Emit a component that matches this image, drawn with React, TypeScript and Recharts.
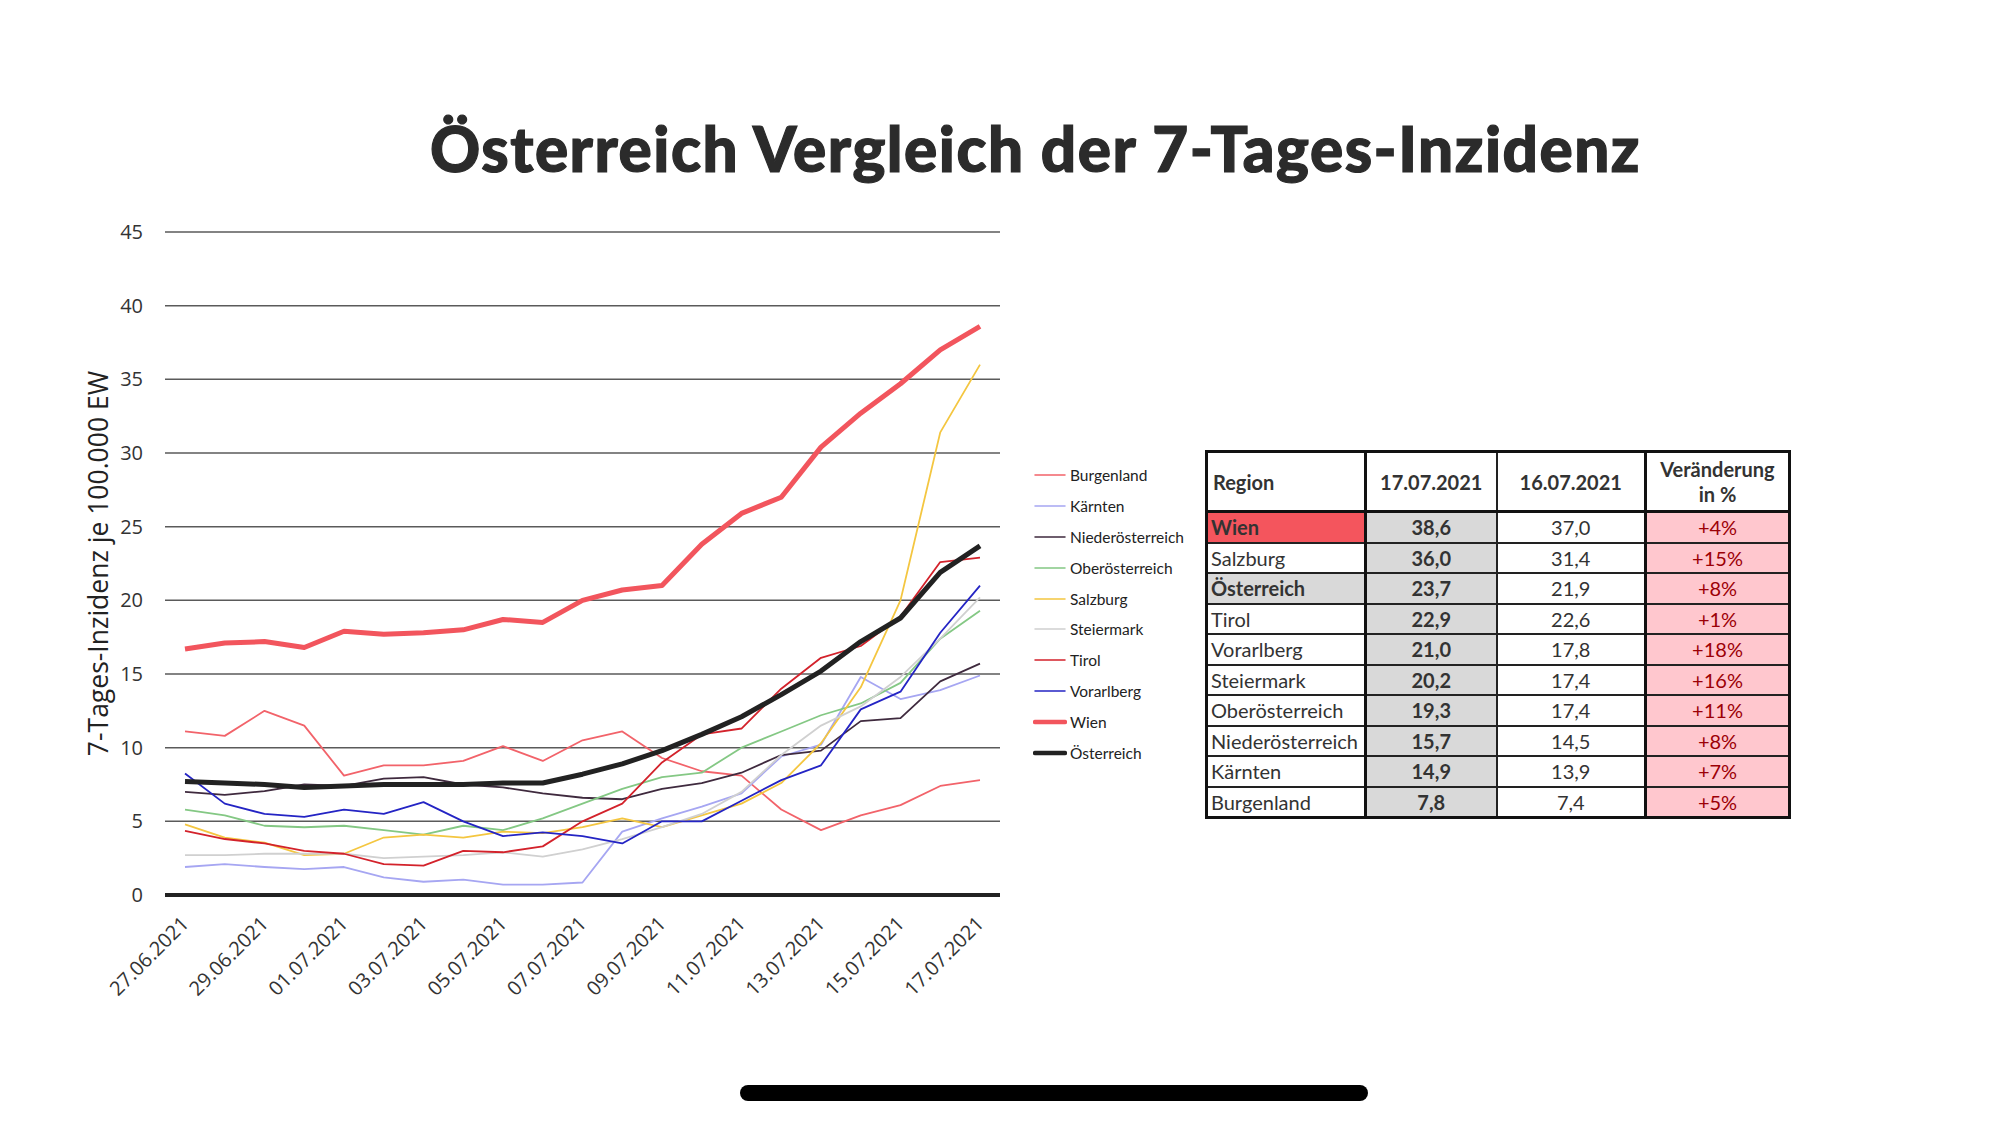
import { LineChart, Line, XAxis, YAxis, CartesianGrid, Legend, Label } from 'recharts'

const dates = [
  '27.06.2021', '28.06.2021', '29.06.2021', '30.06.2021', '01.07.2021', '02.07.2021', '03.07.2021',
  '04.07.2021', '05.07.2021', '06.07.2021', '07.07.2021', '08.07.2021', '09.07.2021', '10.07.2021',
  '11.07.2021', '12.07.2021', '13.07.2021', '14.07.2021', '15.07.2021', '16.07.2021', '17.07.2021',
]

const burgenland = [11.1, 10.8, 12.5, 11.5, 8.1, 8.8, 8.8, 9.1, 10.1, 9.1, 10.5, 11.1, 9.3, 8.4, 8.1, 5.8, 4.4, 5.4, 6.1, 7.4, 7.8]
const kaernten = [1.9, 2.1, 1.9, 1.75, 1.9, 1.2, 0.9, 1.05, 0.7, 0.7, 0.85, 4.3, 5.2, 6.0, 6.9, 9.4, 10.2, 14.8, 13.3, 13.9, 14.9]
const niederoesterreich = [7.0, 6.8, 7.05, 7.5, 7.4, 7.9, 8.0, 7.5, 7.3, 6.9, 6.6, 6.5, 7.2, 7.6, 8.3, 9.5, 9.8, 11.8, 12.0, 14.5, 15.7]
const oberoesterreich = [5.8, 5.4, 4.7, 4.6, 4.7, 4.4, 4.1, 4.7, 4.4, 5.2, 6.2, 7.2, 8.0, 8.3, 10.0, 11.1, 12.2, 13.0, 14.4, 17.4, 19.3]
const salzburg = [4.8, 3.9, 3.55, 2.7, 2.8, 3.9, 4.1, 3.9, 4.3, 4.2, 4.6, 5.2, 4.6, 5.4, 6.2, 7.6, 10.3, 14.1, 20.0, 31.4, 36.0]
const steiermark = [2.7, 2.7, 2.8, 2.8, 2.8, 2.5, 2.6, 2.7, 2.9, 2.6, 3.1, 3.8, 4.6, 5.5, 7.0, 9.5, 11.5, 12.8, 14.8, 17.4, 20.2]
const tirol = [4.35, 3.8, 3.5, 3.0, 2.8, 2.1, 2.0, 3.0, 2.9, 3.3, 5.0, 6.2, 9.0, 10.9, 11.3, 14.0, 16.1, 16.9, 18.9, 22.6, 22.9]
const vorarlberg = [8.25, 6.2, 5.5, 5.3, 5.8, 5.5, 6.3, 5.0, 4.0, 4.25, 4.0, 3.5, 5.0, 5.0, 6.4, 7.8, 8.8, 12.6, 13.8, 17.8, 21.0]
const wien = [16.7, 17.1, 17.2, 16.8, 17.9, 17.7, 17.8, 18.0, 18.7, 18.5, 20.0, 20.7, 21.0, 23.8, 25.9, 27.0, 30.4, 32.7, 34.7, 37.0, 38.6]
const oesterreich = [7.7, 7.6, 7.5, 7.3, 7.4, 7.5, 7.5, 7.5, 7.6, 7.6, 8.2, 8.9, 9.8, 10.9, 12.1, 13.6, 15.2, 17.2, 18.8, 21.9, 23.7]

const yTicks = [0, 5, 10, 15, 20, 25, 30, 35, 40, 45]

// table on the right
const tableRegions = ['Wien', 'Salzburg', 'Österreich', 'Tirol', 'Vorarlberg', 'Steiermark', 'Oberösterreich', 'Niederösterreich', 'Kärnten', 'Burgenland']
const tableToday = ['38,6', '36,0', '23,7', '22,9', '21,0', '20,2', '19,3', '15,7', '14,9', '7,8']
const tableYesterday = ['37,0', '31,4', '21,9', '22,6', '17,8', '17,4', '17,4', '14,5', '13,9', '7,4']
const tableChange = ['+4%', '+15%', '+8%', '+1%', '+18%', '+16%', '+11%', '+8%', '+7%', '+5%']

const series = [
  { key: 'Burgenland', values: burgenland, color: '#f2636a', width: 1.8 },
  { key: 'Kärnten', values: kaernten, color: '#a6a6f2', width: 1.8 },
  { key: 'Niederösterreich', values: niederoesterreich, color: '#3f2a3e', width: 1.8 },
  { key: 'Oberösterreich', values: oberoesterreich, color: '#84c884', width: 1.8 },
  { key: 'Salzburg', values: salzburg, color: '#f4c640', width: 1.8 },
  { key: 'Steiermark', values: steiermark, color: '#d0d0d0', width: 1.8 },
  { key: 'Tirol', values: tirol, color: '#d3222b', width: 1.8 },
  { key: 'Vorarlberg', values: vorarlberg, color: '#2424c4', width: 1.8 },
  { key: 'Wien', values: wien, color: '#f2555d', width: 5 },
  { key: 'Österreich', values: oesterreich, color: '#222222', width: 5 },
]

const chartData = dates.map((d, i) => {
  const row: Record<string, string | number> = { date: d }
  series.forEach((s) => {
    row[s.key] = s.values[i]
  })
  return row
})

const DateTick = (props: any) => {
  const { x, y, payload } = props
  return (
    <g transform={`translate(${x + 5},${y + 22})`}>
      <text
        x={0}
        y={0}
        textAnchor="end"
        transform="rotate(-45)"
        fontFamily="'Open Sans', sans-serif"
        fontSize={20}
        fill="#333"
      >
        {payload.value}
      </text>
    </g>
  )
}

const renderLegend = () => (
  <div style={{ fontFamily: 'Lato, sans-serif', fontSize: 15.5, color: '#222' }}>
    {series.map((s) => (
      <div key={s.key} style={{ display: 'flex', alignItems: 'center', height: 30.8 }}>
        <svg width={34} height={8}>
          <line
            x1={2}
            x2={32}
            y1={4}
            y2={4}
            stroke={s.color}
            strokeWidth={s.width > 3 ? 4.5 : 1.5}
            strokeLinecap="round"
          />
        </svg>
        <span style={{ marginLeft: 3 }}>{s.key}</span>
      </div>
    ))}
  </div>
)

const cellBase: React.CSSProperties = {
  borderTop: '2px solid #222',
  borderBottom: '2px solid #222',
  padding: 0,
  height: 28.5,
  lineHeight: '28px',
  fontSize: 20,
  color: '#333',
  textAlign: 'center',
  whiteSpace: 'nowrap',
  overflow: 'visible',
}

function RegionTable() {
  return (
    <table
      style={{
        position: 'absolute',
        left: 1205,
        top: 450,
        width: 583,
        borderCollapse: 'collapse',
        tableLayout: 'fixed',
        border: '3px solid #111',
        fontFamily: 'Lato, sans-serif',
      }}
    >
      <colgroup>
        <col style={{ width: 159 }} />
        <col style={{ width: 131 }} />
        <col style={{ width: 149 }} />
        <col style={{ width: 144 }} />
      </colgroup>
      <thead>
        <tr>
          <th style={{ ...cellBase, height: 57, textAlign: 'left', paddingLeft: 5, borderRight: '3px solid #111', borderBottom: '3px solid #111' }}>Region</th>
          <th style={{ ...cellBase, height: 57, borderRight: '2px solid #222', borderBottom: '3px solid #111' }}>17.07.2021</th>
          <th style={{ ...cellBase, height: 57, borderRight: '3px solid #111', borderBottom: '3px solid #111' }}>16.07.2021</th>
          <th style={{ ...cellBase, height: 57, lineHeight: '25px', borderBottom: '3px solid #111' }}>
            Veränderung
            <br />
            in %
          </th>
        </tr>
      </thead>
      <tbody>
        {tableRegions.map((r, i) => {
          const bold = r === 'Wien' || r === 'Österreich'
          const regionBg = r === 'Wien' ? '#f4555d' : r === 'Österreich' ? '#d9d9d9' : '#fff'
          return (
            <tr key={r}>
              <td
                style={{
                  ...cellBase,
                  textAlign: 'left',
                  paddingLeft: 3,
                  fontWeight: bold ? 700 : 400,
                  background: regionBg,
                  borderRight: '3px solid #111',
                }}
              >
                {r}
              </td>
              <td style={{ ...cellBase, fontWeight: 700, background: '#d9d9d9', borderRight: '2px solid #222' }}>{tableToday[i]}</td>
              <td style={{ ...cellBase, background: '#fff', borderRight: '3px solid #111' }}>{tableYesterday[i]}</td>
              <td style={{ ...cellBase, background: '#ffc7ce', color: '#9c0006' }}>{tableChange[i]}</td>
            </tr>
          )
        })}
      </tbody>
    </table>
  )
}

export default function App() {
  return (
    <div style={{ position: 'absolute', left: 0, top: 0, width: 1999, height: 1124, background: '#fff', overflow: 'hidden' }}>
      <svg width={1999} height={200} style={{ position: 'absolute', left: 0, top: 0 }}>
        <text
          x={430}
          y={172}
          fontFamily="Lato, sans-serif"
          fontWeight={900}
          fontSize={62}
          letterSpacing={1.5}
          fill="#2b2b2b"
          stroke="#2b2b2b"
          strokeWidth={1.2}
        >
          Österreich Vergleich der 7-Tages-Inzidenz
        </text>
      </svg>

      <div style={{ position: 'absolute', left: 0, top: 0 }}>
        <LineChart width={1020} height={1010} data={chartData} margin={{ top: 232, right: 20, left: 105, bottom: 15 }}>
          <CartesianGrid vertical={false} stroke="#5a5a5a" strokeWidth={1.5} />
          <XAxis
            dataKey="date"
            interval={1}
            padding={{ left: 20, right: 20 }}
            height={100}
            tick={<DateTick />}
            tickLine={false}
            axisLine={{ stroke: '#222', strokeWidth: 4 }}
          />
          <YAxis
            width={60}
            domain={[0, 45]}
            ticks={yTicks}
            axisLine={false}
            tickLine={false}
            tickMargin={16}
            tick={{ fontFamily: "'Open Sans', sans-serif", fontSize: 20, fill: '#333' }}
          >
            <Label
              value="7-Tages-Inzidenz je 100.000 EW"
              angle={-90}
              position="left"
              offset={6}
              style={{ textAnchor: 'middle', fontFamily: "'Open Sans', sans-serif", fontSize: 26.5, fill: '#222' }}
            />
          </YAxis>
          <Legend
            layout="vertical"
            align="center"
            verticalAlign="middle"
            content={renderLegend}
            wrapperStyle={{ left: 1033, top: 460, width: 200 }}
          />
          {series.map((s) => (
            <Line
              key={s.key}
              type="linear"
              dataKey={s.key}
              stroke={s.color}
              strokeWidth={s.width}
              dot={false}
              activeDot={false}
              isAnimationActive={false}
              strokeLinejoin="round"
            />
          ))}
        </LineChart>
      </div>

      <RegionTable />

      <div
        style={{
          position: 'absolute',
          left: 740,
          top: 1085,
          width: 628,
          height: 16,
          borderRadius: 8,
          background: '#000',
        }}
      />
    </div>
  )
}
